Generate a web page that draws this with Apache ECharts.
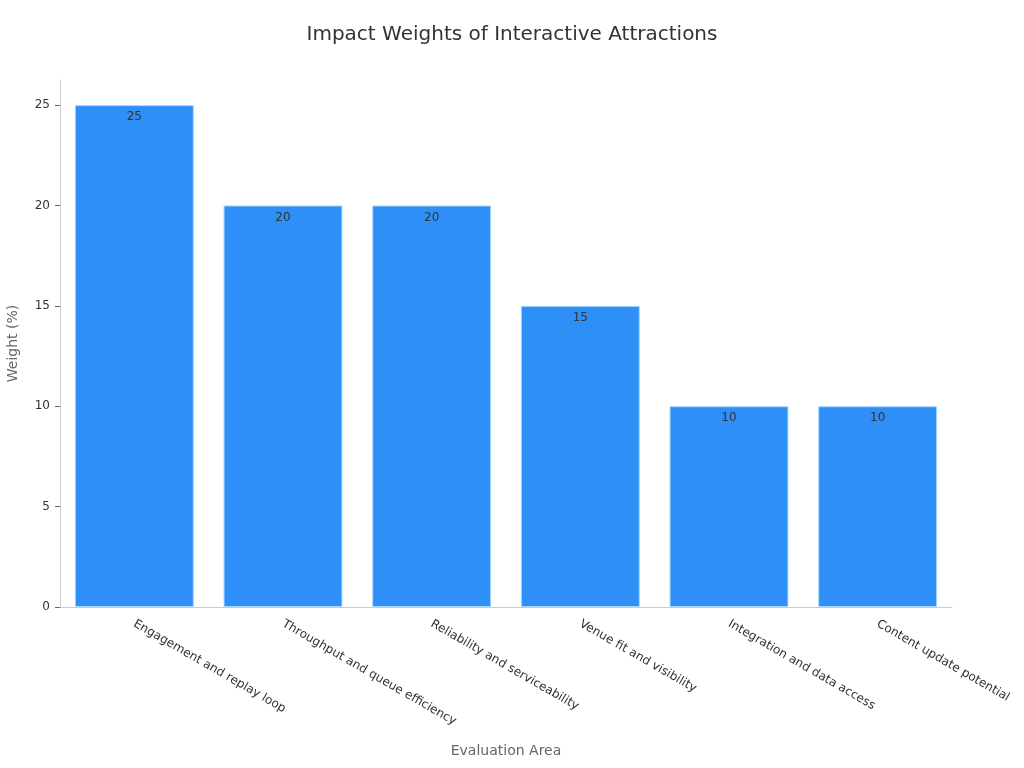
<!DOCTYPE html>
<html><head><meta charset="utf-8">
<script src="https://cdn.jsdelivr.net/npm/echarts@6/dist/echarts.min.js"></script>
<style>html,body{margin:0;padding:0;background:#fff}#c{width:1024px;height:768px}</style>
</head><body><div id="c"></div>
<script>
const categories = ["Engagement and replay loop","Throughput and queue efficiency","Reliability and serviceability","Venue fit and visibility","Integration and data access","Content update potential"];
const weights = [25, 20, 20, 15, 10, 10];
const yTicks = [0, 5, 10, 15, 20, 25];
const chart = echarts.init(document.getElementById('c'));
chart.setOption({
  animation: false,
  textStyle: {fontFamily: 'DejaVu Sans'},
  title: {text: 'Impact Weights of Interactive Attractions', left: 'center', top: 20,
    textStyle: {fontSize: 20, fontWeight: 'normal', color: '#333', fontFamily: 'DejaVu Sans'}},
  grid: {left: 60, right: 72, top: 80, bottom: 161, containLabel: false, outerBoundsMode: 'none'},
  xAxis: {type: 'category', data: categories, name: 'Evaluation Area', nameLocation: 'middle', nameGap: 137,
    nameTextStyle: {color: '#666', fontSize: 14},
    axisLine: {lineStyle: {color: '#ccc'}},
    axisTick: {alignWithLabel: true, lineStyle: {color: '#666'}},
    axisLabel: {rotate: -30, color: '#333', fontSize: 12, interval: 0, margin: 16}},
  yAxis: {type: 'value', min: 0, max: 26.25, name: 'Weight (%)', nameLocation: 'middle', nameGap: 40,
    nameTextStyle: {color: '#666', fontSize: 14},
    splitLine: {show: false},
    axisLine: {show: true, lineStyle: {color: '#ccc'}},
    axisTick: {show: true, customValues: yTicks, lineStyle: {color: '#666'}},
    axisLabel: {customValues: yTicks, color: '#333', fontSize: 12, margin: 10}},
  series: [{type: 'bar', data: weights, barWidth: '80%',
    itemStyle: {color: '#2E90F7', borderColor: '#a8d8ff', borderWidth: 1},
    label: {show: true, position: 'insideTop', color: '#333', fontSize: 12, distance: 6}}]
});
</script></body></html>
